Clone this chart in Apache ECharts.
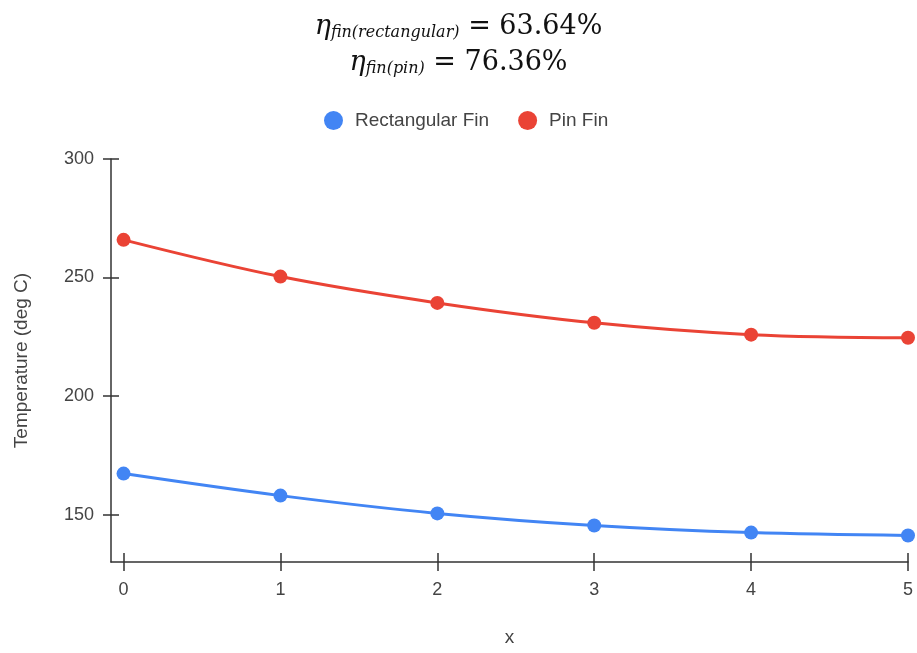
<!DOCTYPE html>
<html>
<head>
<meta charset="utf-8">
<script src="https://cdn.jsdelivr.net/npm/echarts@6/dist/echarts.min.js"></script>
<style>
html, body { margin: 0; padding: 0; background: #fff; }
#chart { width: 917px; height: 653px; }
</style>
</head>
<body>
<div id="chart"></div>
<script>
var xValues = [0, 1, 2, 3, 4, 5];
var rectFin = [167.3, 158.0, 150.5, 145.4, 142.4, 141.2];
var pinFin = [265.9, 250.4, 239.3, 230.9, 225.9, 224.6];
var yTicks = [150, 200, 250, 300];
var xTicks = [0, 1, 2, 3, 4, 5];
var seriesNames = ['Rectangular Fin', 'Pin Fin'];
var etaRect = '63.64%';
var etaPin = '76.36%';

function pairs(ys) {
  return xValues.map(function (x, i) { return [x, ys[i]]; });
}

var mathRich = {
  e: { fontFamily: 'DejaVu Serif', fontStyle: 'italic', fontWeight: 'normal', fontSize: 27, color: '#111' },
  s: { fontFamily: 'DejaVu Serif', fontStyle: 'italic', fontWeight: 'normal', fontSize: 16, color: '#111', padding: [13, 0, 0, 0] },
  q: { fontFamily: 'DejaVu Serif', fontWeight: 'normal', fontSize: 27, color: '#111' }
};

var axisText = { fontFamily: 'Liberation Sans', fontSize: 18, color: '#444' };
var tickLine = { color: '#333', width: 1.5 };

var chart = echarts.init(document.getElementById('chart'), null, { renderer: 'canvas' });
var option = {
  animation: false,
  color: ['#4285F4', '#EA4335'],
  title: [
    { text: '{e|η}{s|fin(rectangular)}{q| = ' + etaRect + '}', left: 'center', top: 7,
      textStyle: { fontWeight: 'normal', rich: mathRich } },
    { text: '{e|η}{s|fin(pin)}{q| = ' + etaPin + '}', left: 'center', top: 43,
      textStyle: { fontWeight: 'normal', rich: mathRich } }
  ],
  legend: {
    data: seriesNames,
    top: 106,
    left: 319,
    icon: 'circle',
    itemWidth: 19,
    itemHeight: 19,
    itemGap: 29,
    textStyle: { fontFamily: 'Liberation Sans', fontSize: 19, color: '#444', padding: [0, 0, 0, 7] }
  },
  grid: { left: 111, right: 9, top: 159, bottom: 91 },
  xAxis: [{
    type: 'value', min: -0.08, max: 5,
    name: 'x', nameLocation: 'middle', nameGap: 66,
    nameTextStyle: { fontFamily: 'Liberation Sans', fontSize: 19, color: '#444' },
    axisLine: { onZero: false, lineStyle: tickLine },
    axisTick: { show: true, length: 9, customValues: xTicks, lineStyle: tickLine },
    axisLabel: Object.assign({ customValues: xTicks, margin: 19 }, axisText),
    splitLine: { show: false }
  }, {
    type: 'value', min: -0.08, max: 5, position: 'bottom',
    axisLine: { show: false, onZero: false },
    axisTick: { show: true, inside: true, length: 9, customValues: xTicks, lineStyle: tickLine },
    axisLabel: { show: false },
    splitLine: { show: false }
  }],
  yAxis: [{
    // shifted 8px into the plot so its 16px ticks straddle the axis line
    type: 'value', min: 130, max: 300, offset: -8,
    name: 'Temperature (deg C)', nameLocation: 'middle', nameGap: 88,
    nameTextStyle: { fontFamily: 'Liberation Sans', fontSize: 19, color: '#444' },
    axisLine: { show: false, onZero: false },
    axisTick: { show: true, length: 16, customValues: yTicks, lineStyle: tickLine },
    axisLabel: Object.assign({ customValues: yTicks, margin: 25 }, axisText),
    splitLine: { show: false }
  }, {
    type: 'value', min: 130, max: 300, position: 'left', offset: 0,
    axisLine: { show: true, onZero: false, lineStyle: tickLine },
    axisTick: { show: false },
    axisLabel: { show: false },
    splitLine: { show: false }
  }],
  series: [{
    name: seriesNames[0], type: 'line', smooth: 0.35,
    data: pairs(rectFin),
    symbol: 'circle', symbolSize: 14,
    lineStyle: { width: 3 },
    clip: false
  }, {
    name: seriesNames[1], type: 'line', smooth: 0.35,
    data: pairs(pinFin),
    symbol: 'circle', symbolSize: 14,
    lineStyle: { width: 3 },
    clip: false
  }]
};
chart.setOption(option);
</script>
</body>
</html>
